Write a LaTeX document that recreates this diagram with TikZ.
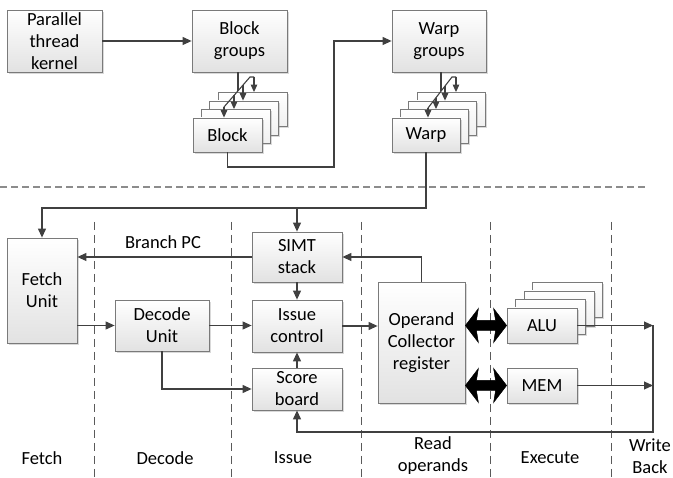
\documentclass[tikz,border=0pt]{standalone}
\usepackage{fontspec}
\setmainfont{Carlito}
\usetikzlibrary{arrows.meta,shadows,calc}

\definecolor{boxline}{HTML}{7A7A7A}
\definecolor{boxfill}{HTML}{E2E2E2}
\definecolor{linec}{HTML}{404040}
\definecolor{sepc}{HTML}{8C8C8C}
\definecolor{vsepc}{HTML}{5A5A5A}
\newcommand\boxfont{\fontsize{18.5}{22}\selectfont}

\begin{document}
\begin{tikzpicture}[x=1pt,y=-1pt,
  box/.style={draw=boxline, line width=0.8pt, top color=white, bottom color=boxfill,
    drop shadow={shadow xshift=1.6pt,shadow yshift=-1.6pt,opacity=0.3,fill=gray},
    align=center, inner sep=0pt, font=\boxfont},
  backbox/.style={box, top color=white, bottom color=white!94!black},
  conn/.style={draw=linec, line width=1.1pt, -{Triangle[length=9pt,width=8pt]}},
  wire/.style={draw=linec, line width=1.1pt},
  fanarr/.style={draw=linec, line width=1.1pt, -{Triangle[length=7.5pt,width=6.5pt]}},
  hsep/.style={draw=sepc, line width=1.3pt, dash pattern=on 7pt off 4pt},
  vsep/.style={draw=vsepc, line width=0.8pt, dash pattern=on 8pt off 5pt},
  stage/.style={align=center, font=\boxfont, inner sep=0pt},
  bigarrow/.style={fill=black, draw=black, line width=0.5pt},
]
\useasboundingbox (0,0) rectangle (673,478);

% ---------- upper part: kernel, blocks, warps ----------
\node[box, minimum width=95pt, minimum height=62pt] (kernel) at (54.5,41) {Parallel\\thread\\kernel};
\node[box, minimum width=95pt, minimum height=62pt] (bgroups) at (239.5,41) {Block\\groups};
\node[box, minimum width=94pt, minimum height=62pt] (wgroups) at (439,41) {Warp\\groups};

% stack of blocks
\node[backbox, minimum width=69pt, minimum height=34pt] (blk4) at (252.4,109.5) {};
\node[backbox, minimum width=69pt, minimum height=34pt] (blk3) at (244.1,118) {};
\node[backbox, minimum width=69pt, minimum height=34pt] (blk2) at (235.8,126.5) {};
\node[box, minimum width=69pt, minimum height=34pt] (blk) at (227.5,135) {Block};

% stack of warps
\node[backbox, minimum width=68pt, minimum height=34pt] (wp4) at (451,109.5) {};
\node[backbox, minimum width=68pt, minimum height=34pt] (wp3) at (442.7,118) {};
\node[backbox, minimum width=68pt, minimum height=34pt] (wp2) at (434.4,126.5) {};
\node[box, minimum width=68pt, minimum height=34pt] (wp) at (426,135) {Warp};

\draw[conn] (kernel.east) -- (bgroups.west);

% fan-out from block groups into the block stack
\coordinate (bf) at (238,90.8);
\draw[wire] (bgroups.south -| bf) -- (bf);
\draw[wire] (254,77) -- (250,77) -- (224,107);
\draw[fanarr] (254,77) -- (blk4.north -| 254,0);
\draw[fanarr] (243,85) -- (blk3.north -| 243,0);
\draw[fanarr] (234,95.5) -- (blk2.north -| 234,0);
\draw[fanarr] (224,107) -- (blk.north -| 224,0);

% fan-out from warp groups into the warp stack
\coordinate (wf) at (441,91.2);
\draw[wire] (wgroups.south -| wf) -- (wf);
\draw[wire] (456,77) -- (452,77) -- (428,108);
\draw[fanarr] (456,77) -- (wp4.north -| 456,0);
\draw[fanarr] (445,86) -- (wp3.north -| 445,0);
\draw[fanarr] (436,97.7) -- (wp2.north -| 436,0);
\draw[fanarr] (428,108) -- (wp.north -| 428,0);

% block -> warp groups
\coordinate (bw) at (334,167);
\draw[conn] (blk.south) |- (bw) |- (wgroups.west);

% separator between the two parts
\draw[hsep] (0,187) -- (648,187);

% ---------- pipeline ----------
\foreach \x in {94,231,361,490,611}
  \draw[vsep] (\x,222) -- (\x,478);

\node[box, minimum width=70pt, minimum height=105pt] (fetch) at (42,290.5) {Fetch\\Unit};
\node[box, minimum width=94pt, minimum height=51pt] (decode) at (162,325.5) {Decode\\Unit};
\node[box, minimum width=90pt, minimum height=50pt] (simt) at (297,257) {SIMT\\stack};
\node[box, minimum width=90pt, minimum height=52pt] (issue) at (297,326) {Issue\\control};
\node[box, minimum width=90pt, minimum height=42pt] (score) at (297,389) {Score\\board};
\node[box, minimum width=87pt, minimum height=121pt] (opc) at (421.5,342.5) {Operand\\Collector\\register};

% stack of ALUs
\node[backbox, minimum width=70pt, minimum height=35pt] (alu4) at (567.5,300) {};
\node[backbox, minimum width=70pt, minimum height=35pt] (alu3) at (559,308.5) {};
\node[backbox, minimum width=70pt, minimum height=35pt] (alu2) at (550.5,317) {};
\node[box, minimum width=70pt, minimum height=35pt] (alu) at (542,325.5) {ALU};
\node[box, minimum width=70pt, minimum height=35pt] (mem) at (542,385.5) {MEM};

% warp dispatch bus
\coordinate (bus) at (426,208);
\draw[conn] (wp.south) -- (bus) -| (fetch.north);
\draw[conn] (simt.north |- bus) -- (simt.north);

% branch PC
\draw[conn] (simt.west) -- (simt.west -| fetch.east);
\node[stage] (bpc) at (163,242) {Branch PC};
\draw[conn] (opc.north) |- (simt.east);

\draw[conn] (fetch.east |- decode.west) -- (decode.west);
\draw[conn] (decode.east) -- (decode.east -| issue.west);
\draw[conn] (decode.south) |- (score.west);
\draw[conn] (simt.south) -- (issue.north);
\draw[conn] (score.north) -- (issue.south);
\draw[conn] (issue.east) -- (issue.east -| opc.west);

% thick two-way links between operand collector and units
\foreach \u in {alu,mem}{
  \path (opc.east |- \u.west) coordinate (l) (\u.west) coordinate (r);
  \fill[bigarrow] (l) -- ($(l)+(13,-17)$) -- ($(l)+(11,-5)$) -- ($(r)+(-11,-5)$)
    -- ($(r)+(-13,-17)$) -- (r) -- ($(r)+(-13,17)$) -- ($(r)+(-11,5)$)
    -- ($(l)+(11,5)$) -- ($(l)+(13,17)$) -- cycle;
}

% write back
\coordinate (wb) at (653,432);
\draw[conn] (alu.east) -- (alu.east -| wb);
\draw[conn] (mem.east) -- (mem.east -| wb);
\draw[conn] (alu.east -| wb) -- (wb) -| (score.south);

% stage names
\node[stage] (sfetch) at (42,458) {Fetch};
\node[stage] (sdecode) at (165,458) {Decode};
\node[stage] (sissue) at (293,458) {Issue};
\node[stage] (sread) at (433,456) {Read\\operands};
\node[stage] (sexec) at (550,458) {Execute};
\node[stage] (swb) at (650,456) {Write\\Back};
\end{tikzpicture}
\end{document}
